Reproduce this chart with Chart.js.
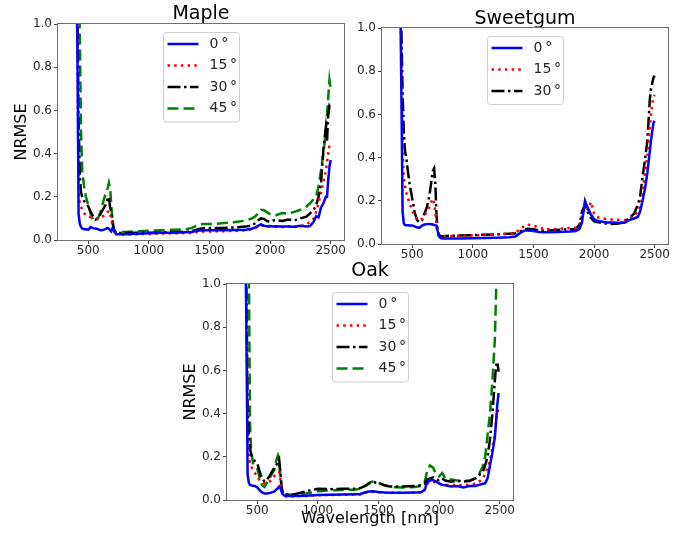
<!DOCTYPE html>
<html lang="en">
<head>
  <meta charset="UTF-8">
  <title>NRMSE vs wavelength</title>
  <style>
    body { margin: 0; background: #fff; }
    #wrap { position: relative; width: 681px; height: 536px; overflow: hidden; }
    canvas { position: absolute; }
  </style>
</head>
<body>
  <div id="wrap">
    <canvas id="maple" width="350" height="265" style="left:0;top:0"></canvas>
    <canvas id="sweetgum" width="350" height="270" style="left:324px;top:0"></canvas>
    <canvas id="oak" width="350" height="278" style="left:169px;top:258px"></canvas>
  </div>

  <script src="https://cdn.jsdelivr.net/npm/chart.js@4"></script>
  <script>
    // wavelength samples (nm), shared by every curve
    const wavelength = [400, 410, 420, 430, 440, 450, 465, 480, 500, 520, 540, 560, 580, 600, 620, 640, 660, 670, 680, 690,
      700, 710, 720, 735, 750, 800, 900, 1000, 1100, 1200, 1300, 1350, 1400, 1425, 1450, 1500, 1550, 1600, 1700, 1800,
      1850, 1880, 1900, 1925, 1950, 1975, 2000, 2025, 2050, 2100, 2150, 2200, 2250, 2300, 2330, 2360, 2380, 2400, 2420, 2440,
      2460, 2470, 2480, 2490, 2500];

    const xTicks = [500, 1000, 1500, 2000, 2500];
    const yTicks = [0, 0.2, 0.4, 0.6, 0.8, 1.0];
    const angleLabels = ['0\u2009°', '15\u2009°', '30\u2009°', '45\u2009°'];

    // Maple
    const maple0 = [1.3, 0.9, 0.12, 0.075, 0.06, 0.053, 0.05, 0.05, 0.048, 0.06, 0.055, 0.053, 0.05, 0.045, 0.046, 0.05, 0.056, 0.052, 0.045, 0.04,
      0.055, 0.05, 0.035, 0.028, 0.027, 0.027, 0.029, 0.031, 0.033, 0.034, 0.036, 0.037, 0.043, 0.044, 0.045, 0.045, 0.045, 0.045, 0.046, 0.048,
      0.052, 0.058, 0.065, 0.072, 0.066, 0.064, 0.065, 0.063, 0.064, 0.062, 0.063, 0.061, 0.066, 0.063, 0.065, 0.085, 0.11, 0.105, 0.15, 0.17,
      0.2, 0.2, 0.28, 0.34, 0.37];
    const maple15 = [1.3, 1.0, 0.22, 0.17, 0.155, 0.14, 0.125, 0.115, 0.11, 0.105, 0.102, 0.1, 0.1, 0.105, 0.11, 0.115, 0.13, 0.135, 0.12, 0.1,
      0.06, 0.035, 0.028, 0.026, 0.026, 0.025, 0.027, 0.028, 0.03, 0.031, 0.032, 0.033, 0.037, 0.038, 0.039, 0.039, 0.04, 0.04, 0.042, 0.045,
      0.05, 0.056, 0.063, 0.068, 0.064, 0.063, 0.062, 0.062, 0.061, 0.06, 0.062, 0.06, 0.064, 0.07, 0.085, 0.1, 0.13, 0.17, 0.22, 0.27,
      0.32, 0.36, 0.4, 0.44, 0.43];
    const maple30 = [1.3, 1.1, 0.55, 0.3, 0.22, 0.2, 0.18, 0.17, 0.155, 0.13, 0.11, 0.095, 0.1, 0.12, 0.14, 0.16, 0.19, 0.2, 0.15, 0.13,
      0.09, 0.05, 0.036, 0.034, 0.033, 0.032, 0.033, 0.034, 0.035, 0.036, 0.038, 0.04, 0.049, 0.052, 0.054, 0.055, 0.055, 0.056, 0.058, 0.062,
      0.068, 0.078, 0.09, 0.1, 0.098, 0.088, 0.085, 0.09, 0.092, 0.088, 0.095, 0.09, 0.1, 0.108, 0.123, 0.14, 0.16, 0.2, 0.26, 0.42,
      0.52, 0.46, 0.58, 0.62, 0.61];
    const maple45 = [1.4, 1.3, 1.2, 0.95, 0.5, 0.32, 0.25, 0.2, 0.16, 0.12, 0.092, 0.088, 0.1, 0.13, 0.17, 0.21, 0.24, 0.265, 0.24, 0.16,
      0.08, 0.05, 0.038, 0.036, 0.036, 0.037, 0.04, 0.043, 0.045, 0.047, 0.05, 0.055, 0.068, 0.072, 0.074, 0.074, 0.075, 0.077, 0.082, 0.09,
      0.1, 0.11, 0.125, 0.14, 0.138, 0.128, 0.12, 0.118, 0.115, 0.125, 0.122, 0.13, 0.14, 0.155, 0.17, 0.19, 0.2, 0.25, 0.32, 0.4,
      0.5, 0.58, 0.66, 0.74, 0.7];

    // Sweetgum
    const sweetgum0 = [1.2, 0.7, 0.15, 0.095, 0.088, 0.087, 0.087, 0.086, 0.086, 0.082, 0.076, 0.075, 0.085, 0.09, 0.092, 0.093, 0.091, 0.09, 0.088, 0.087,
      0.085, 0.06, 0.035, 0.027, 0.025, 0.025, 0.026, 0.027, 0.028, 0.029, 0.031, 0.035, 0.055, 0.062, 0.063, 0.06, 0.056, 0.054, 0.056, 0.058,
      0.06, 0.07, 0.1, 0.2, 0.165, 0.135, 0.115, 0.108, 0.105, 0.1, 0.1, 0.098, 0.098, 0.113, 0.118, 0.125, 0.15, 0.2, 0.255, 0.33,
      0.43, 0.48, 0.52, 0.56, 0.57];
    const sweetgum15 = [1.2, 0.85, 0.42, 0.31, 0.27, 0.24, 0.21, 0.185, 0.155, 0.13, 0.113, 0.11, 0.115, 0.13, 0.15, 0.17, 0.2, 0.21, 0.19, 0.15,
      0.08, 0.048, 0.038, 0.036, 0.036, 0.037, 0.038, 0.04, 0.042, 0.045, 0.048, 0.052, 0.072, 0.085, 0.09, 0.085, 0.075, 0.068, 0.07, 0.074,
      0.075, 0.09, 0.13, 0.17, 0.16, 0.195, 0.14, 0.125, 0.12, 0.116, 0.113, 0.112, 0.11, 0.12, 0.13, 0.15, 0.175, 0.22, 0.33, 0.41,
      0.54, 0.6, 0.65, 0.68, 0.69];
    const sweetgum30 = [1.3, 1.0, 0.7, 0.52, 0.43, 0.4, 0.33, 0.27, 0.21, 0.145, 0.11, 0.1, 0.11, 0.14, 0.17, 0.22, 0.3, 0.34, 0.35, 0.28,
      0.13, 0.06, 0.042, 0.037, 0.036, 0.038, 0.039, 0.041, 0.043, 0.045, 0.048, 0.05, 0.06, 0.068, 0.07, 0.068, 0.063, 0.06, 0.066, 0.068,
      0.07, 0.09, 0.15, 0.18, 0.145, 0.12, 0.105, 0.102, 0.1, 0.095, 0.093, 0.095, 0.1, 0.125, 0.14, 0.18, 0.22, 0.31, 0.39, 0.48,
      0.67, 0.72, 0.745, 0.77, 0.78];

    // Oak
    const oak0 = [1.3, 0.8, 0.12, 0.08, 0.07, 0.068, 0.066, 0.065, 0.058, 0.045, 0.035, 0.03, 0.03, 0.032, 0.035, 0.04, 0.05, 0.055, 0.062, 0.055,
      0.04, 0.028, 0.022, 0.02, 0.019, 0.018, 0.02, 0.023, 0.024, 0.026, 0.027, 0.028, 0.037, 0.039, 0.04, 0.037, 0.035, 0.034, 0.034, 0.035,
      0.036, 0.046, 0.08, 0.09, 0.092, 0.085, 0.077, 0.07, 0.068, 0.062, 0.065, 0.058, 0.065, 0.065, 0.07, 0.075, 0.077, 0.1, 0.16, 0.22,
      0.29, 0.36, 0.44, 0.49, 0.49];
    const oak15 = [1.3, 0.9, 0.3, 0.2, 0.17, 0.155, 0.14, 0.125, 0.108, 0.09, 0.08, 0.077, 0.078, 0.085, 0.095, 0.11, 0.123, 0.128, 0.13, 0.1,
      0.045, 0.025, 0.018, 0.016, 0.016, 0.017, 0.019, 0.022, 0.023, 0.024, 0.025, 0.026, 0.035, 0.037, 0.038, 0.036, 0.034, 0.033, 0.033, 0.035,
      0.036, 0.045, 0.075, 0.082, 0.085, 0.08, 0.075, 0.072, 0.07, 0.07, 0.068, 0.068, 0.07, 0.075, 0.085, 0.1, 0.12, 0.15, 0.18, 0.24,
      0.31, 0.36, 0.4, 0.42, 0.43];
    const oak30 = [1.3, 1.0, 0.45, 0.3, 0.24, 0.21, 0.19, 0.18, 0.17, 0.13, 0.1, 0.085, 0.095, 0.11, 0.13, 0.15, 0.165, 0.18, 0.19, 0.13,
      0.06, 0.035, 0.027, 0.025, 0.025, 0.026, 0.04, 0.052, 0.05, 0.052, 0.052, 0.055, 0.068, 0.078, 0.083, 0.078, 0.068, 0.062, 0.062, 0.065,
      0.068, 0.075, 0.095, 0.1, 0.105, 0.095, 0.092, 0.1, 0.09, 0.085, 0.088, 0.085, 0.088, 0.1, 0.115, 0.13, 0.16, 0.2, 0.28, 0.4,
      0.55, 0.62, 0.64, 0.6, 0.6];
    const oak45 = [1.4, 1.3, 1.2, 1.1, 0.35, 0.22, 0.17, 0.16, 0.145, 0.1, 0.068, 0.06, 0.08, 0.1, 0.12, 0.14, 0.19, 0.205, 0.18, 0.12,
      0.06, 0.032, 0.027, 0.025, 0.025, 0.025, 0.03, 0.04, 0.045, 0.046, 0.048, 0.052, 0.07, 0.08, 0.085, 0.08, 0.068, 0.06, 0.058, 0.06,
      0.065, 0.08, 0.13, 0.16, 0.15, 0.12, 0.11, 0.125, 0.1, 0.095, 0.09, 0.088, 0.09, 0.1, 0.12, 0.154, 0.2, 0.3, 0.4, 0.55,
      0.74, 0.95, 1.2, 1.3, 1.3];

    // line look per angle: blue solid, red dotted, black dash-dot, green dashed
    const lineColors = ['#0000ff', '#ff0000', '#000000', '#008000'];
    const lineDashes = [[], [2.5, 4.2], [13, 3.5, 2.5, 3.5], [11, 5]];

    Chart.defaults.font.family = '"DejaVu Sans", sans-serif';
    Chart.defaults.color = '#262626';

    // all four spines, like matplotlib
    const frame = {
      id: 'frame',
      afterDatasetsDraw(chart) {
        const a = chart.chartArea;
        const c = chart.ctx;
        c.save();
        c.strokeStyle = '#6e6e6e';
        c.lineWidth = 1;
        c.strokeRect(Math.round(a.left) - 0.5, Math.round(a.top) - 0.5,
          Math.round(a.right - a.left) + 1, Math.round(a.bottom - a.top) + 1);
        c.restore();
      }
    };

    // legend box at the upper centre of the axes
    const boxLegend = {
      id: 'boxLegend',
      afterDraw(chart) {
        const a = chart.chartArea;
        const c = chart.ctx;
        const sets = chart.data.datasets;
        const w = 76, rowH = 21.5;
        const h = 25 + (sets.length - 1) * rowH;
        const left = Math.round((a.left + a.right) / 2 - w / 2) + 0.5;
        const top = Math.round(a.top) + 8.5;
        c.save();
        c.beginPath();
        c.roundRect(left, top, w, h, 3);
        c.fillStyle = 'rgba(255,255,255,0.8)';
        c.fill();
        c.strokeStyle = '#d0d0d0';
        c.lineWidth = 1;
        c.stroke();
        sets.forEach((ds, i) => {
          const y = top + 11.5 + i * rowH;
          c.beginPath();
          c.setLineDash(ds.borderDash);
          c.strokeStyle = ds.borderColor;
          c.lineWidth = ds.borderWidth;
          c.moveTo(left + 4, y);
          c.lineTo(left + 35, y);
          c.stroke();
          c.setLineDash([]);
          c.fillStyle = '#262626';
          c.font = '14px "DejaVu Sans"';
          c.textBaseline = 'middle';
          c.fillText(ds.label, left + 46, y);
        });
        c.restore();
      }
    };

    function makeChart(id, name, series, o) {
      const datasets = series.map((vals, i) => ({
        label: angleLabels[i],
        data: wavelength.map((w, j) => ({ x: w, y: vals[j] })),
        borderColor: lineColors[i],
        borderDash: lineDashes[i],
        borderWidth: 2.5,
        pointRadius: 0,
        fill: false,
        clip: 0
      }));

      return new Chart(document.getElementById(id), {
        type: 'line',
        data: { datasets },
        plugins: [frame, boxLegend],
        options: {
          responsive: false,
          animation: false,
          layout: { padding: { left: 0, right: 6, top: 0, bottom: 0 } },
          plugins: {
            legend: { display: false },
            tooltip: { enabled: false },
            title: {
              display: true,
              text: name,
              fullSize: false,
              color: '#000',
              font: { size: 19, lineHeight: o.titleLH, weight: 'normal' },
              padding: o.titlePad
            }
          },
          scales: {
            x: {
              type: 'linear',
              min: 250,
              max: 2610,
              afterBuildTicks: s => { s.ticks = xTicks.map(v => ({ value: v })); },
              afterFit: s => { s.height = o.xHeight; },
              ticks: { font: { size: 12, lineHeight: 1 }, padding: 1, maxRotation: 0, autoSkip: false, callback: v => String(v) },
              grid: { drawOnChartArea: false, tickLength: 4, tickColor: '#444' },
              border: { display: false },
              title: {
                display: !!o.xTitle,
                text: o.xTitle || '',
                color: '#000',
                font: { size: 16, lineHeight: 1.2 },
                padding: { top: 0, bottom: 8 }
              }
            },
            y: {
              min: 0,
              max: 1,
              afterBuildTicks: s => { s.ticks = yTicks.map(v => ({ value: v })); },
              afterFit: s => { s.width = 58; },
              ticks: { font: { size: 12 }, padding: 2, callback: v => v.toFixed(1) },
              grid: { drawOnChartArea: false, tickLength: 4, tickColor: '#444' },
              border: { display: false },
              title: {
                display: !!o.yTitle,
                text: o.yTitle || '',
                color: '#000',
                font: { size: 16, lineHeight: 1.2 },
                padding: { top: 12, bottom: 0 }
              }
            }
          }
        }
      });
    }

    makeChart('maple', 'Maple', [maple0, maple15, maple30, maple45],
      { titleLH: 1, titlePad: { top: 5, bottom: 0 }, xHeight: 25, yTitle: 'NRMSE' });
    makeChart('sweetgum', 'Sweetgum', [sweetgum0, sweetgum15, sweetgum30],
      { titleLH: 18 / 19, titlePad: { top: 10, bottom: 0 }, xHeight: 26 });
    makeChart('oak', 'Oak', [oak0, oak15, oak30, oak45],
      { titleLH: 1, titlePad: { top: 4, bottom: 3 }, xHeight: 36, yTitle: 'NRMSE', xTitle: 'Wavelength [nm]' });
  </script>
</body>
</html>
